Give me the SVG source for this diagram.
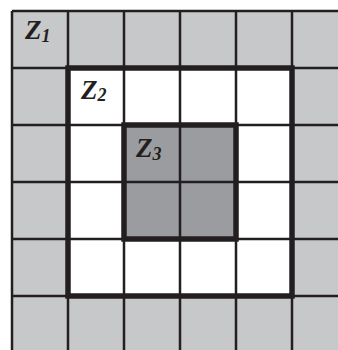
<svg xmlns="http://www.w3.org/2000/svg" width="338" height="350" viewBox="0 0 338 350">
<style>
.thin{stroke:#231f20;stroke-width:2.5;fill:none}
.thick{stroke:#231f20;stroke-width:5.5;fill:none}
.lbl{font-family:"Liberation Serif",serif;font-weight:bold;font-style:italic;fill:#231f20}
.z{font-size:27px}
.s{font-size:18px}
</style>
<rect width="338" height="350" fill="#ffffff"/>
<g id="Z1">
<rect x="12" y="11" width="336" height="342" fill="#c7c8ca"/>
<text class="lbl" x="25" y="39"><tspan class="z">Z</tspan><tspan class="s" dy="3">1</tspan></text>
</g>
<g id="Z2">
<rect x="68" y="68" width="224" height="228" fill="#ffffff"/>
<text class="lbl" x="81" y="99"><tspan class="z">Z</tspan><tspan class="s" dy="2">2</tspan></text>
</g>
<g id="Z3">
<rect x="124" y="125" width="112" height="114" fill="#9b9c9f"/>
<text class="lbl" x="136" y="157"><tspan class="z">Z</tspan><tspan class="s" dy="3">3</tspan></text>
</g>
<g id="grid">
<path class="thin" d="M12 11V353M68 11V353M124 11V353M180 11V353M236 11V353M292 11V353M12 11H348M12 68H348M12 125H348M12 182H348M12 239H348M12 296H348"/>
<rect class="thick" x="68" y="68" width="224" height="228"/>
<rect class="thick" x="124" y="125" width="112" height="114"/>
</g>
</svg>
